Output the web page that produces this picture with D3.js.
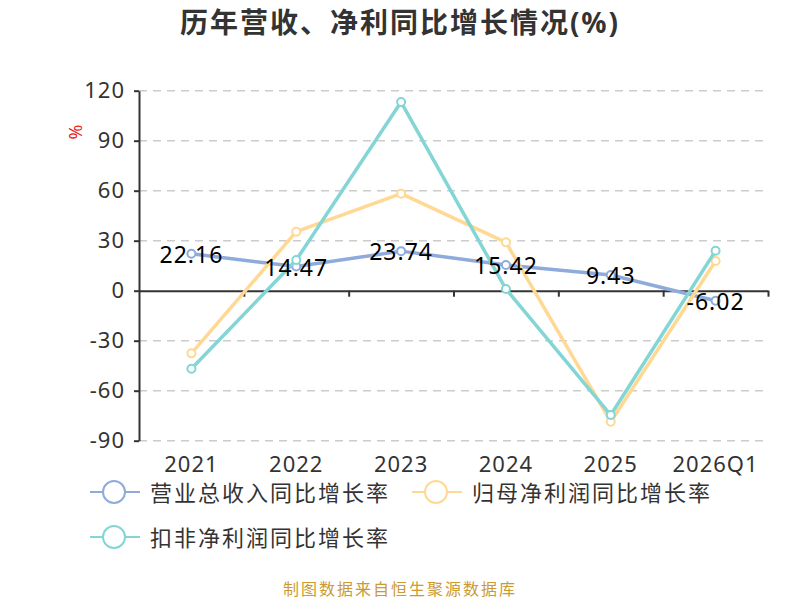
<!DOCTYPE html>
<html>
<head>
<meta charset="utf-8">
<script src="https://cdn.jsdelivr.net/npm/d3@7"></script>
<style>
  body { margin: 0; background: #fff; }
  svg { display: block; font-family: "Noto Sans", "Noto Sans CJK SC", sans-serif; }
</style>
</head>
<body>
<div id="chart"></div>
<script>
// chart data
const categories = ['2021', '2022', '2023', '2024', '2025', '2026Q1']
const revenueGrowth = [22.16, 14.47, 23.74, 15.42, 9.43, -6.02]
const netProfitGrowth = [-37.6, 35.4, 58.2, 29.0, -78.6, 17.8]
const deductedProfitGrowth = [-46.8, 18.4, 113.2, 1.0, -74.6, 24.0]
const yTicks = [-90, -60, -30, 0, 30, 60, 90, 120]
const seriesNames = ['营业总收入同比增长率', '归母净利润同比增长率', '扣非净利润同比增长率']

const width = 800
const height = 600
const plot = { left: 139, right: 768, top: 90.7, bottom: 440.7 }
const colors = ['#8eabdb', '#ffd994', '#84d5d6']

const svg = d3.select('#chart')
  .append('svg')
  .attr('width', width)
  .attr('height', height)

// title
svg.append('text')
  .attr('x', width / 2)
  .attr('y', 22)
  .attr('text-anchor', 'middle')
  .attr('dominant-baseline', 'central')
  .style('font-size', '28px')
  .style('font-weight', 'bold')
  .style('letter-spacing', '2px')
  .style('fill', '#333')
  .text('历年营收、净利同比增长情况(%)')

// scales
const x = d3.scaleBand().domain(categories).range([plot.left, plot.right])
const xIdx = d3.scaleLinear().domain([0, categories.length]).range([plot.left, plot.right])
const y = d3.scaleLinear().domain([-90, 120]).range([plot.bottom, plot.top])

// dashed grid lines
svg.append('g')
  .selectAll('line')
  .data(yTicks.filter(d => d !== 0))
  .enter()
  .append('line')
  .attr('x1', plot.left)
  .attr('x2', plot.right)
  .attr('y1', d => y(d))
  .attr('y2', d => y(d))
  .attr('stroke', '#cccccc')
  .attr('stroke-width', 1.5)
  .attr('stroke-dasharray', '8,6')

// y axis (plain hyphen for negatives)
const yAxis = svg.append('g')
  .attr('transform', `translate(${plot.left},0)`)
  .call(
    d3.axisLeft(y)
      .tickValues(yTicks)
      .tickFormat(d => String(d))
      .tickSize(5)
      .tickSizeOuter(0)
      .tickPadding(9),
  )
yAxis.select('.domain').attr('stroke', '#333').attr('stroke-width', 2)
yAxis.selectAll('.tick line').attr('stroke', '#333').attr('stroke-width', 2)
yAxis.selectAll('text')
  .style('font-size', '22px')
  .style('letter-spacing', '1px')
  .style('fill', '#333')
  .style('font-family', '"Noto Sans", sans-serif')

// unit label
svg.append('text')
  .attr('transform', 'translate(75,132) rotate(-90)')
  .attr('text-anchor', 'middle')
  .attr('dominant-baseline', 'central')
  .style('font-size', '18px')
  .style('fill', '#ee2222')
  .text('%')

// x axis at zero, ticks at band boundaries
const xAxis = svg.append('g')
  .attr('transform', `translate(0,${y(0)})`)
  .call(d3.axisBottom(xIdx).ticks(categories.length).tickSize(6).tickSizeOuter(0).tickFormat(''))
xAxis.select('.domain').attr('stroke', '#333').attr('stroke-width', 2)
xAxis.selectAll('.tick line').attr('stroke', '#333').attr('stroke-width', 2)
xAxis.selectAll('.tick').filter(d => d === 0).remove()

// category labels at the bottom
const xLabels = svg.append('g')
  .attr('transform', `translate(0,${plot.bottom})`)
  .call(d3.axisBottom(x).tickSize(0).tickPadding(16))
xLabels.select('.domain').remove()
xLabels.selectAll('text')
  .style('font-size', '22px')
  .style('letter-spacing', '1px')
  .style('fill', '#333')
  .style('font-family', '"Noto Sans", sans-serif')

// lines and points
const allSeries = [revenueGrowth, netProfitGrowth, deductedProfitGrowth]
const line = d3.line()
  .x((d, i) => x(categories[i]) + x.bandwidth() / 2)
  .y(d => y(d))

allSeries.forEach((values, s) => {
  svg.append('path')
    .datum(values)
    .attr('fill', 'none')
    .attr('stroke', colors[s])
    .attr('stroke-width', 3.5)
    .attr('stroke-linejoin', 'round')
    .attr('d', line)

  svg.append('g')
    .selectAll('circle')
    .data(values)
    .enter()
    .append('circle')
    .attr('cx', (d, i) => x(categories[i]) + x.bandwidth() / 2)
    .attr('cy', d => y(d))
    .attr('r', 4)
    .attr('fill', '#fff')
    .attr('stroke', colors[s])
    .attr('stroke-width', 2)
})

// value labels for revenue series
svg.append('g')
  .selectAll('text')
  .data(revenueGrowth)
  .enter()
  .append('text')
  .attr('x', (d, i) => x(categories[i]) + x.bandwidth() / 2)
  .attr('y', d => y(d))
  .attr('text-anchor', 'middle')
  .attr('dominant-baseline', 'central')
  .style('font-size', '23px')
  .style('letter-spacing', '1px')
  .style('fill', '#000')
  .text(d => d.toFixed(2))

// legend
const legendPos = [[90, 492], [412, 492], [90, 537]]
seriesNames.forEach((name, i) => {
  const g = svg.append('g')
    .attr('transform', `translate(${legendPos[i][0]},${legendPos[i][1]})`)

  g.append('line')
    .attr('x1', 0)
    .attr('x2', 50)
    .attr('stroke', colors[i])
    .attr('stroke-width', 2)

  g.append('circle')
    .attr('cx', 24)
    .attr('r', 11)
    .attr('fill', '#fff')
    .attr('stroke', colors[i])
    .attr('stroke-width', 2)

  g.append('text')
    .attr('x', 60)
    .attr('dominant-baseline', 'central')
    .style('font-size', '22px')
    .style('letter-spacing', '2px')
    .style('fill', '#333')
    .text(name)
})

// source note
svg.append('text')
  .attr('x', width / 2)
  .attr('y', 589)
  .attr('text-anchor', 'middle')
  .attr('dominant-baseline', 'central')
  .style('font-size', '16px')
  .style('letter-spacing', '2px')
  .style('fill', '#cc9a2e')
  .text('制图数据来自恒生聚源数据库')
</script>
</body>
</html>
